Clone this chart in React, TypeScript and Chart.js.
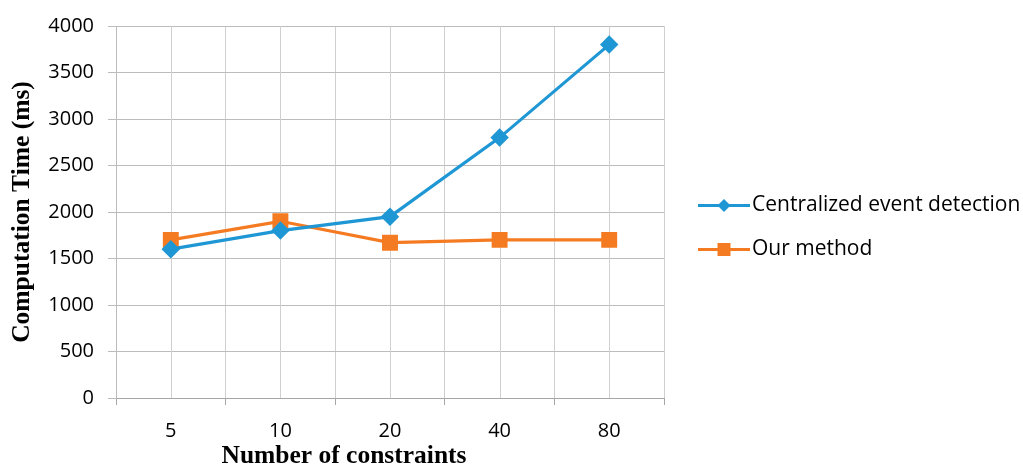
import React, { useEffect, useRef } from "react";
import { Chart, registerables } from "chart.js";

Chart.register(...registerables);

const categories = ["5", "10", "20", "40", "80"];
const centralized = [1600, 1800, 1950, 2800, 3800];
const ourMethod = [1700, 1900, 1670, 1700, 1700];
const seriesNames = ["Centralized event detection", "Our method"];
const yTitle = "Computation Time (ms)";
const xTitle = "Number of constraints";
const yMin = 0;
const yMax = 4000;
const yStep = 500;

const BLUE = "#1e97d4";
const ORANGE = "#f57b22";
const SANS = "'Open Sans', sans-serif";
const SERIF = "'Liberation Serif', 'Times New Roman', serif";

const centerGridPlugin = {
  id: "centerGrid",
  beforeDatasetsDraw(chart: any) {
    const { ctx, chartArea, scales } = chart;
    const xs = scales.x;
    ctx.save();
    ctx.strokeStyle = "#d0d0d0";
    ctx.lineWidth = 1;
    for (let i = 0; i < xs.ticks.length; i++) {
      const x = Math.round(xs.getPixelForTick(i)) + 0.5;
      ctx.beginPath();
      ctx.moveTo(x, chartArea.top);
      ctx.lineTo(x, chartArea.bottom);
      ctx.stroke();
    }
    ctx.restore();
  },
};

const decorPlugin = {
  id: "decor",
  afterDraw(chart: any) {
    const { ctx } = chart;
    ctx.save();
    // x axis title
    ctx.font = `bold 25.5px ${SERIF}`;
    ctx.fillStyle = "#000";
    ctx.textAlign = "center";
    ctx.textBaseline = "alphabetic";
    ctx.fillText(xTitle, 344, 463);
    // legend
    const rows = [205.5, 249.5];
    chart.data.datasets.forEach((ds: any, i: number) => {
      const y = rows[i];
      ctx.strokeStyle = ds.borderColor;
      ctx.lineWidth = 3.2;
      ctx.beginPath();
      ctx.moveTo(698, y);
      ctx.lineTo(750, y);
      ctx.stroke();
      ctx.fillStyle = ds.borderColor;
      const cx = 724;
      if (ds.pointStyle === "rect") {
        const s = 6.5;
        ctx.fillRect(cx - s, y - s, 2 * s, 2 * s);
      } else {
        const r = 6.5;
        ctx.beginPath();
        ctx.moveTo(cx, y - r);
        ctx.lineTo(cx + r, y);
        ctx.lineTo(cx, y + r);
        ctx.lineTo(cx - r, y);
        ctx.closePath();
        ctx.fill();
      }
      ctx.fillStyle = "#000";
      ctx.font = `21px ${SANS}`;
      ctx.textAlign = "left";
      ctx.textBaseline = "middle";
      ctx.fillText(ds.label, 752, y);
    });
    ctx.restore();
  },
};

export default function App() {
  const ref = useRef<HTMLCanvasElement | null>(null);
  useEffect(() => {
    if (!ref.current) return;
    const chart = new Chart(ref.current, {
      type: "line",
      data: {
        labels: categories,
        datasets: [
          {
            label: seriesNames[0],
            data: centralized,
            borderColor: BLUE,
            backgroundColor: BLUE,
            borderWidth: 3.2,
            pointStyle: "rectRot",
            pointRadius: 7,
            pointHoverRadius: 7,
            tension: 0,
          },
          {
            label: seriesNames[1],
            data: ourMethod,
            borderColor: ORANGE,
            backgroundColor: ORANGE,
            borderWidth: 3.2,
            pointStyle: "rect",
            pointRadius: 9,
            pointHoverRadius: 9,
            tension: 0,
          },
        ],
      },
      options: {
        animation: false,
        responsive: true,
        maintainAspectRatio: false,
        layout: { padding: { top: 23, right: 1023 - 664, left: 0, bottom: 0 } },
        plugins: { legend: { display: false }, tooltip: { enabled: false } },
        scales: {
          x: {
            type: "category",
            offset: true,
            grid: { offset: true, color: "#d0d0d0", tickLength: 7, tickColor: "#a6a6a6" },
            border: { color: "#a6a6a6" },
            ticks: { color: "#000", font: { family: SANS, size: 20 }, padding: 14 },
            afterFit: (s: any) => {
              s.height = 70;
            },
          },
          y: {
            min: yMin,
            max: yMax,
            ticks: {
              stepSize: yStep,
              color: "#000",
              font: { family: SANS, size: 20 },
              padding: 14,
              callback: (v: any) => String(v),
            },
            grid: { color: "#bcbcbc", tickLength: 8 },
            border: { color: "#bcbcbc" },
            title: {
              display: true,
              text: yTitle,
              color: "#000",
              font: { family: SERIF, size: 25.5, weight: "bold" },
              padding: { top: 7, bottom: 0 },
            },
            afterFit: (s: any) => {
              s.width = 116;
            },
          },
        },
      },
      plugins: [centerGridPlugin, decorPlugin],
    } as any);
    return () => chart.destroy();
  }, []);
  return (
    <div style={{ position: "fixed", left: 0, top: 0, width: 1023, height: 468, background: "#fff" }}>
      <canvas ref={ref} />
    </div>
  );
}
